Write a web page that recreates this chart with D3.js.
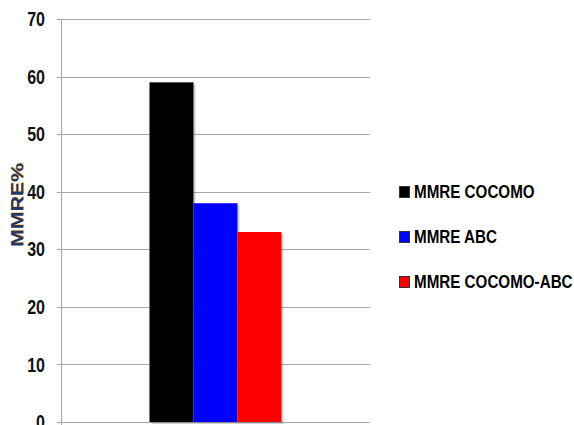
<!DOCTYPE html>
<html>
<head>
<meta charset="utf-8">
<script src="https://cdn.jsdelivr.net/npm/d3@7"></script>
<style>
  body { margin: 0; background: #fff; }
  svg { display: block; }
</style>
</head>
<body>
<svg id="chart" width="574" height="425"></svg>
<script>
const categories = [""];
const seriesNames = ["MMRE COCOMO", "MMRE ABC", "MMRE COCOMO-ABC"];
const seriesValues = [59, 38, 33];
const seriesColors = ["#000000", "#0000ff", "#ff0000"];
const yTicks = [0, 10, 20, 30, 40, 50, 60, 70];

const svg = d3.select("#chart");
const width = 574;
const height = 425;
const font = "'Liberation Sans', Arial, sans-serif";

// plot area
const plotLeft = 61, plotRight = 370, plotTop = 19, plotBottom = 422;

const y = d3.scaleLinear().domain([0, 70]).range([plotBottom, plotTop]);

const x0 = d3.scaleBand().domain(categories).range([plotLeft, plotRight])
  .paddingInner(0).paddingOuter(0.67);
const x1 = d3.scaleBand().domain(seriesNames).range([0, x0.bandwidth()]);

// gridlines
svg.append("g")
  .selectAll("line")
  .data(yTicks)
  .join("line")
  .attr("x1", plotLeft - 4)
  .attr("x2", plotRight)
  .attr("y1", d => Math.round(y(d)) + 0.5)
  .attr("y2", d => Math.round(y(d)) + 0.5)
  .attr("stroke", "#a6a6a6")
  .attr("stroke-width", 1);

// y axis line
svg.append("line")
  .attr("x1", plotLeft + 0.5).attr("x2", plotLeft + 0.5)
  .attr("y1", plotTop).attr("y2", height)
  .attr("stroke", "#a6a6a6");

// tick labels (narrow bold, squeezed horizontally)
svg.append("g")
  .selectAll("text")
  .data(yTicks)
  .join("text")
  .attr("transform", d => `translate(45,${y(d)}) scale(0.8,1)`)
  .attr("dy", "0.36em")
  .attr("text-anchor", "end")
  .style("font-family", font)
  .style("font-weight", "bold")
  .style("font-size", "20px")
  .attr("fill", "#111")
  .text(d => d);

// bar shadows
const g = svg.append("g").attr("transform", `translate(${x0("")},0)`);
g.selectAll("rect.shadow")
  .data(seriesValues)
  .join("rect")
  .attr("class", "shadow")
  .attr("x", (d, i) => x1(seriesNames[i]) + 2)
  .attr("y", d => y(d) + 2)
  .attr("width", x1.bandwidth())
  .attr("height", d => y(0) - y(d))
  .attr("fill", "#000")
  .attr("opacity", 0.18);

g.selectAll("rect.bar")
  .data(seriesValues)
  .join("rect")
  .attr("class", "bar")
  .attr("x", (d, i) => x1(seriesNames[i]))
  .attr("y", d => y(d))
  .attr("width", x1.bandwidth())
  .attr("height", d => y(0) - y(d))
  .attr("fill", (d, i) => seriesColors[i]);

// y axis title: dark blue with orange fringe
const title = (dx, dy, color) => svg.append("text")
  .attr("transform", `translate(${23 + dx},${205 + dy}) rotate(-90)`)
  .attr("text-anchor", "middle")
  .attr("textLength", 84)
  .attr("lengthAdjust", "spacingAndGlyphs")
  .style("font-family", font)
  .style("font-weight", "bold")
  .style("font-size", "16px")
  .attr("fill", color)
  .text("MMRE%");
title(0.8, -0.6, "#f0a030");
title(0, 0, "#1f3864");

// legend
const legend = svg.append("g")
  .selectAll("g")
  .data(seriesNames)
  .join("g")
  .attr("transform", (d, i) => `translate(399,${198 + i * 45})`);

legend.append("rect")
  .attr("x", 0.5).attr("y", -11.5)
  .attr("width", 10).attr("height", 11)
  .attr("fill", (d, i) => seriesColors[i])
  .attr("stroke", "#333")
  .attr("stroke-width", 1);

legend.append("text")
  .attr("transform", "translate(15,0) scale(0.8,1)")
  .style("font-family", font)
  .style("font-weight", "bold")
  .style("font-size", "19px")
  .attr("fill", "#000")
  .text(d => d);
</script>
</body>
</html>
